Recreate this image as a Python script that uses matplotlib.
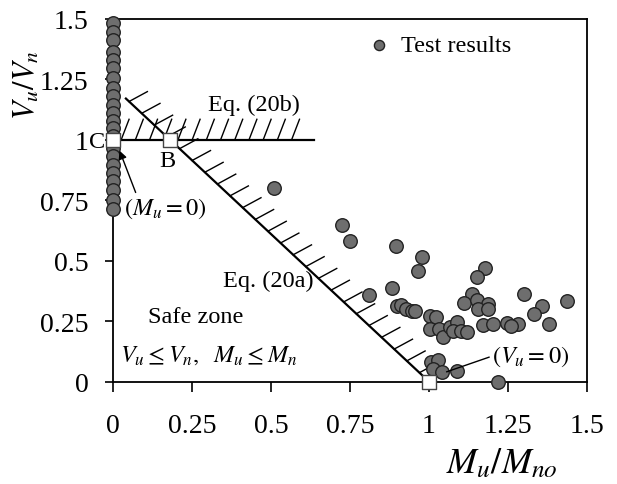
import numpy as np
import matplotlib
matplotlib.use("Agg")
import matplotlib.pyplot as plt

plt.rcParams['font.family'] = ['Liberation Serif', 'DejaVu Serif']
plt.rcParams['mathtext.fontset'] = 'stix'

# Ensayos con Mu = 0 (columna sobre el eje vertical)
col_v = [1.482, 1.448, 1.414, 1.365, 1.331, 1.297, 1.255, 1.214, 1.180, 1.145,
         1.111, 1.077, 1.049, 1.014, 0.966, 0.932, 0.897, 0.863, 0.829, 0.794,
         0.753, 0.712]

# Resto de ensayos (Mu/Mno, Vu/Vn)
test_m = [0.508, 0.726, 0.749, 0.895, 0.977, 0.966, 0.811, 0.884, 0.900, 0.913,
          0.929, 0.945, 0.956, 1.005, 1.024, 1.003, 1.033, 1.046, 1.067, 1.090,
          1.077, 1.101, 1.120, 1.008, 1.030, 1.012, 1.043, 1.090, 1.178, 1.151,
          1.302, 1.437, 1.357, 1.333, 1.379, 1.136, 1.112, 1.153, 1.188, 1.157,
          1.188, 1.246, 1.281, 1.259, 1.172, 1.204, 1.220]
test_v = [0.800, 0.648, 0.583, 0.561, 0.514, 0.459, 0.358, 0.387, 0.313, 0.316,
          0.302, 0.292, 0.292, 0.272, 0.265, 0.217, 0.217, 0.183, 0.224, 0.247,
          0.210, 0.210, 0.206, 0.080, 0.087, 0.050, 0.040, 0.042, 0.470, 0.433,
          0.361, 0.333, 0.313, 0.279, 0.238, 0.363, 0.324, 0.336, 0.320, 0.302,
          0.299, 0.244, 0.238, 0.228, 0.234, 0.238, 0.000]

# Puntos notables C, B y (1, 0)
key_m = [0.0, 0.18, 1.0]
key_v = [1.0, 1.0, 0.0]

xticks = [0, 0.25, 0.5, 0.75, 1, 1.25, 1.5]
xtick_labels = ['0', '0.25', '0.5', '0.75', '1', '1.25', '1.5']
ytick_labels = ['0', '0.25', '0.5', '0.75', '1', '1.25', '1.5']

fig = plt.figure(figsize=(6.17, 4.85), dpi=100)
ax = fig.add_axes([0.1836, 0.2113, 0.7673, 0.7475])
ax.set_xlim(0, 1.5)
ax.set_ylim(0, 1.5)

# Eq. (20a): recta desde B hasta (1, 0)
mb = key_m[1]
m_a = np.array([0.04, 1.0])
v_a = (1 - m_a) / (1 - mb)
ax.plot(m_a, v_a, color='black', lw=1.6, zorder=2)

# Eq. (20b): recta horizontal Vu/Vn = 1
ax.plot([0, 0.635], [1, 1], color='black', lw=1.6, zorder=2)

# Rayado de Eq. (20b)
for x0 in np.arange(0.025, 0.6, 0.045):
    ax.plot([x0, x0 + 0.025], [1.0, 1.085], color='black', lw=1.0, zorder=2)

# Rayado de Eq. (20a)
for x0 in np.arange(0.05, 0.98, 0.04):
    y0 = (1 - x0) / (1 - mb)
    ax.plot([x0, x0 + 0.058], [y0, y0 + 0.041], color='black', lw=1.0, zorder=2)

ax.scatter(np.zeros(len(col_v)), col_v, s=95, facecolor='#6e6e6e',
           edgecolor='#222222', linewidth=1.0, zorder=3, clip_on=False)
ax.scatter(test_m, test_v, s=95, facecolor='#6e6e6e', edgecolor='#222222',
           linewidth=1.0, zorder=3, clip_on=False, label='Test results')
ax.scatter(key_m, key_v, s=105, marker='s', facecolor='white', edgecolor='#444444',
           linewidth=1.0, zorder=4, clip_on=False)

ax.legend(loc='upper left', bbox_to_anchor=(0.49, 0.985), frameon=False,
          fontsize=17.5, handletextpad=-0.1, borderaxespad=0, markerscale=0.75)

ax.text(-0.026, 0.995, 'C', fontsize=17.5, ha='right', va='center')
ax.text(0.172, 0.915, 'B', fontsize=17.5, ha='center', va='center')
ax.text(0.447, 1.145, 'Eq. (20b)', fontsize=17.5, ha='center', va='center')
ax.text(0.49, 0.42, 'Eq. (20a)', fontsize=17.5, ha='center', va='center')
ax.text(0.26, 0.27, 'Safe zone', fontsize=17.5, ha='center', va='center')
ax.text(0.02, 0.11, r'$V_u \leq V_n,\ \ M_u \leq M_n$', fontsize=17.5,
        ha='left', va='center')

ax.annotate(r'$(M_u=0)$', xy=(0.02, 0.955), xytext=(0.035, 0.72),
            fontsize=17.5, ha='left', va='center',
            arrowprops=dict(arrowstyle='-|>', color='black', lw=1.0,
                            shrinkA=0, shrinkB=0, mutation_scale=12,
                            relpos=(0.15, 1.0)))
ax.annotate(r'$(V_u=0)$', xy=(1.056, 0.04), xytext=(1.2, 0.105),
            fontsize=17.5, ha='left', va='center',
            arrowprops=dict(arrowstyle='-', color='black', lw=1.0,
                            shrinkA=0, shrinkB=0, relpos=(0.0, 0.5)))

ax.set_xticks(xticks)
ax.set_xticklabels(xtick_labels)
ax.set_yticks(xticks)
ax.set_yticklabels(ytick_labels)
ax.tick_params(axis='x', direction='out', length=7, width=1.2, pad=16, labelsize=20)
ax.tick_params(axis='y', direction='out', length=6, width=1.2, pad=12, labelsize=20)
for sp in ax.spines.values():
    sp.set_linewidth(1.3)

ax.set_xlabel(r'$M_u/M_{no}$', fontsize=26)
ax.xaxis.set_label_coords(0.82, -0.18)
ax.set_ylabel(r'$V_u/V_n$', fontsize=22)
ax.yaxis.set_label_coords(-0.15, 0.82)

fig.savefig('out.png', dpi=100)
